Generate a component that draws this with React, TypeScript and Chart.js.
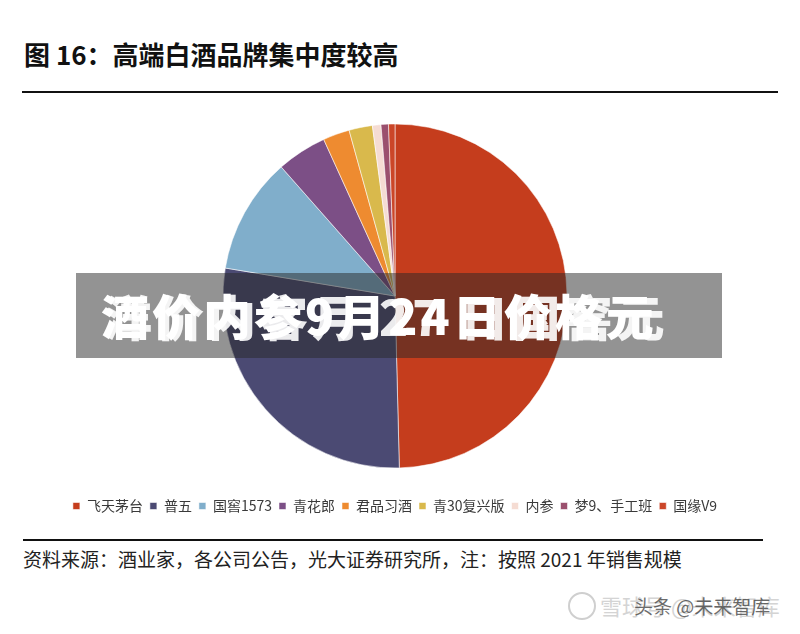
import React, { useEffect, useRef } from "react";
import { Chart, registerables } from "chart.js";

Chart.register(...registerables);

const brands = ["飞天茅台", "普五", "国窖1573", "青花郎", "君品习酒", "青30复兴版", "内参", "梦9、手工班", "国缘V9"];
const shares = [49.6, 28.0, 10.9, 4.7, 2.5, 2.2, 0.8, 0.7, 0.6];
const sliceColors = ["#c53d1d", "#4b4a73", "#80aecb", "#7c4f86", "#ee8b30", "#d9b94c", "#f5dcd3", "#9b506e", "#cb4628"];

const titleText = "图 16：高端白酒品牌集中度较高";
const sourceText = "资料来源：酒业家，各公司公告，光大证券研究所，注：按照 2021 年销售规模";
const overlayA = "酒价内参9月24日价格元";
const overlayB = "洋价内客月 27 日国窖元";

const CJK = '"Noto Sans CJK SC", "Noto Sans", sans-serif';

export default function App() {
  const ref = useRef<HTMLCanvasElement | null>(null);

  useEffect(() => {
    if (!ref.current) return;
    const chart = new Chart(ref.current, {
      type: "pie",
      data: {
        labels: brands,
        datasets: [
          {
            data: shares,
            backgroundColor: sliceColors,
            borderColor: "rgba(255,255,255,0.55)",
            borderWidth: 1,
            radius: 172,
          },
        ],
      },
      options: {
        animation: false,
        responsive: true,
        maintainAspectRatio: false,
        layout: { padding: { top: 0, bottom: 2, left: 4, right: 14 } },
        plugins: {
          tooltip: { enabled: false },
          legend: {
            position: "bottom",
            labels: {
              boxWidth: 7,
              boxHeight: 7,
              padding: 7,
              color: "#3a3a3a",
              font: { family: CJK, size: 14 },
            },
          },
        },
      },
    });
    return () => chart.destroy();
  }, []);

  return (
    <div style={{ position: "absolute", left: 0, top: 0, width: 800, height: 634, background: "#ffffff", overflow: "hidden", fontFamily: CJK }}>
      <div style={{ position: "absolute", left: 24, top: 41, fontSize: 26, lineHeight: 1, fontWeight: 700, color: "#111", whiteSpace: "nowrap" }}>{titleText}</div>
      <div style={{ position: "absolute", left: 22, top: 91, width: 756, height: 2, background: "#111" }} />
      <div style={{ position: "absolute", left: 0, top: 100, width: 800, height: 425 }}>
        <canvas ref={ref} />
      </div>
      <div style={{ position: "absolute", left: 76, top: 273, width: 646, height: 85, background: "rgba(40,40,40,0.5)" }}>
        <div style={{ position: "absolute", left: 25, top: 17, fontSize: 48, lineHeight: 1, fontWeight: 900, color: "#fff", whiteSpace: "nowrap", letterSpacing: 3 }}>{overlayA}</div>
        <div style={{ position: "absolute", left: 28, top: 18, fontSize: 48, lineHeight: 1, fontWeight: 900, color: "rgba(255,255,255,0.9)", whiteSpace: "nowrap", letterSpacing: 4 }}>{overlayB}</div>
      </div>
      <div style={{ position: "absolute", left: 23, top: 539, width: 740, height: 2, background: "#111" }} />
      <div style={{ position: "absolute", left: 23, top: 549, fontSize: 19, lineHeight: 1, color: "#222", whiteSpace: "nowrap" }}>{sourceText}</div>
      <div style={{ position: "absolute", left: 568, top: 592, width: 24, height: 24, borderRadius: "50%", border: "2px solid #cfcfcf" }} />
      <div style={{ position: "absolute", left: 600, top: 594, fontSize: 22, lineHeight: 1, color: "#d4d4d4", whiteSpace: "nowrap" }}>雪球号 @未来智库</div>
      <div style={{ position: "absolute", left: 634, top: 596, fontSize: 19, lineHeight: 1, color: "rgba(60,60,60,0.75)", whiteSpace: "nowrap" }}>头条 @未来智库</div>
    </div>
  );
}
